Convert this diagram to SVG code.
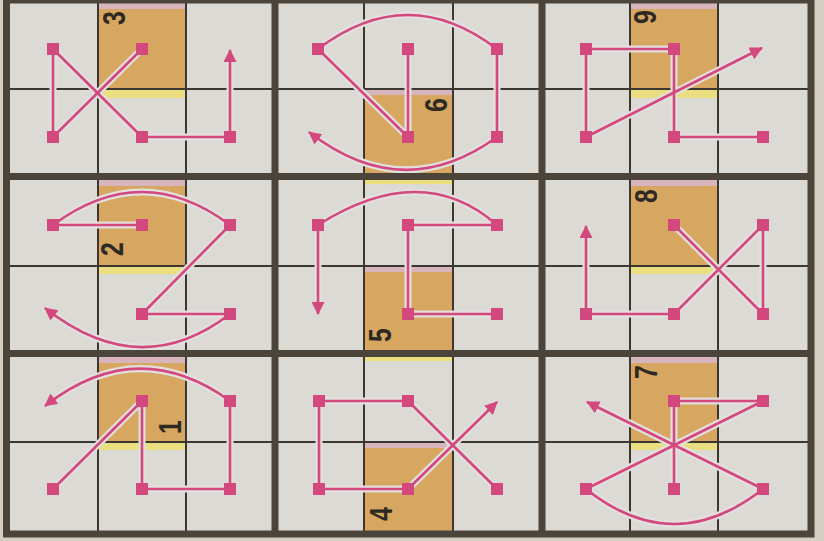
<svg xmlns="http://www.w3.org/2000/svg" width="824" height="541" viewBox="0 0 824 541">
<defs>
<style>
.paper{fill:#d3cec1}
.cell{fill:#dcdad4}
.grid{stroke:#3c3731;stroke-width:2;fill:none}
.frame{stroke:#4a443a;stroke-width:7;fill:none}
.halo{stroke:#e3dfdf;stroke-width:7;fill:none;stroke-linejoin:round}
.wire{stroke:#d3487d;stroke-width:2.6;fill:none;stroke-linejoin:round}
.arrow{marker-end:url(#ah)}
.mag{fill:#d6b5bd}
.org{fill:#d7a761}
.yel{fill:#e9df80}
.num{font-family:"Liberation Sans",Arial,sans-serif;font-weight:bold;font-size:31px;fill:#2d2923;text-anchor:middle}
.node rect{fill:#d3487d}
</style>
<marker id="ah" markerUnits="userSpaceOnUse" viewBox="0 0 13 13" markerWidth="13" markerHeight="13" refX="12" refY="6.5" orient="auto"><path d="M0,0 L13,6.5 L0,13 z" fill="#d3487d"/></marker>
</defs>

<g id="board">
<rect class="paper" x="0" y="0" width="824" height="541"/>
<rect class="cell" x="6" y="0" width="806" height="535"/>
<g id="highlights">
<rect class="yel" x="98" y="89" width="88" height="9"/><rect class="mag" x="98" y="3" width="88" height="6"/><rect class="org" x="98" y="9" width="88" height="80"/>
<rect class="yel" x="364" y="173" width="89" height="11"/><rect class="mag" x="364" y="89" width="89" height="6"/><rect class="org" x="364" y="95" width="89" height="78"/>
<rect class="yel" x="630" y="89" width="88" height="9"/><rect class="mag" x="630" y="3" width="88" height="6"/><rect class="org" x="630" y="9" width="88" height="80"/>
<rect class="yel" x="98" y="266" width="88" height="8"/><rect class="mag" x="98" y="180" width="88" height="6"/><rect class="org" x="98" y="186" width="88" height="80"/>
<rect class="yel" x="364" y="350" width="89" height="11"/><rect class="mag" x="364" y="266" width="89" height="6"/><rect class="org" x="364" y="272" width="89" height="78"/>
<rect class="yel" x="630" y="266" width="88" height="8"/><rect class="mag" x="630" y="180" width="88" height="6"/><rect class="org" x="630" y="186" width="88" height="80"/>
<rect class="yel" x="98" y="442" width="88" height="8"/><rect class="mag" x="98" y="357" width="88" height="6"/><rect class="org" x="98" y="363" width="88" height="79"/>
<rect class="yel" x="364" y="531" width="89" height="6"/><rect class="mag" x="364" y="442" width="89" height="6"/><rect class="org" x="364" y="448" width="89" height="83"/>
<rect class="yel" x="630" y="442" width="88" height="8"/><rect class="mag" x="630" y="357" width="88" height="6"/><rect class="org" x="630" y="363" width="88" height="79"/>
</g>
<path class="grid" d="M98,0V537 M186,0V537 M364,0V537 M453,0V537 M630,0V537 M718,0V537 M6,89H811 M6,266H811 M6,442H811"/>
</g>

<g id="connectors">
<g id="halos" class="halo">
<path d="M142,49 L53,137 L53,49 L142,137 L230,137 L230,50"/>
<path d="M408,49 L408,137 L318,49 Q408,-19 497,49 L497,137 Q403,205 309,132"/>
<path d="M763,137 L674,137 L674,49 L586,49 L586,137 L762,48"/>
<path d="M142,225 L53,225 Q142,159 230,225 L142,314 L230,314 Q140,383 45,308"/>
<path d="M497,314 L408,314 L408,225 L497,225 Q422,159 318,225 L318,314"/>
<path d="M674,225 L763,314 L763,225 L674,314 L586,314 L586,226"/>
<path d="M53,489 L142,401 L142,489 L230,489 L230,401 Q137,334 45,406"/>
<path d="M497,489 L408,401 L319,401 L319,489 L408,489 L497,402"/>
<path d="M674,489 L674,401 L763,401 L586,489 Q674,559 763,489 L587,402"/>
</g>
<g id="wires" class="wire">
<path d="M142,49 L53,137"/><path d="M53,137 L53,49"/><path d="M53,49 L142,137"/><path d="M142,137 L230,137"/><path class="arrow" d="M230,137 L230,50"/>
<path d="M408,49 L408,137"/><path d="M408,137 L318,49"/><path d="M318,49 Q408,-19 497,49"/><path d="M497,49 L497,137"/><path class="arrow" d="M497,137 Q403,205 309,132"/>
<path d="M763,137 L674,137"/><path d="M674,137 L674,49"/><path d="M674,49 L586,49"/><path d="M586,49 L586,137"/><path class="arrow" d="M586,137 L762,48"/>
<path d="M142,225 L53,225"/><path d="M53,225 Q142,159 230,225"/><path d="M230,225 L142,314"/><path d="M142,314 L230,314"/><path class="arrow" d="M230,314 Q140,383 45,308"/>
<path d="M497,314 L408,314"/><path d="M408,314 L408,225"/><path d="M408,225 L497,225"/><path d="M497,225 Q422,159 318,225"/><path class="arrow" d="M318,225 L318,314"/>
<path d="M674,225 L763,314"/><path d="M763,314 L763,225"/><path d="M763,225 L674,314"/><path d="M674,314 L586,314"/><path class="arrow" d="M586,314 L586,226"/>
<path d="M53,489 L142,401"/><path d="M142,401 L142,489"/><path d="M142,489 L230,489"/><path d="M230,489 L230,401"/><path class="arrow" d="M230,401 Q137,334 45,406"/>
<path d="M497,489 L408,401"/><path d="M408,401 L319,401"/><path d="M319,401 L319,489"/><path d="M319,489 L408,489"/><path class="arrow" d="M408,489 L497,402"/>
<path d="M674,489 L674,401"/><path d="M674,401 L763,401"/><path d="M763,401 L586,489"/><path d="M586,489 Q674,559 763,489"/><path class="arrow" d="M763,489 L587,402"/>
</g>
</g>

<g id="nodes">
<g id="p3-a" class="node"><rect x="47" y="43" width="12" height="12"/></g>
<g id="p3-b" class="node"><rect x="136" y="43" width="12" height="12"/></g>
<g id="p3-c" class="node"><rect x="47" y="131" width="12" height="12"/></g>
<g id="p3-d" class="node"><rect x="136" y="131" width="12" height="12"/></g>
<g id="p3-e" class="node"><rect x="224" y="131" width="12" height="12"/></g>

<g id="p6-a" class="node"><rect x="312" y="43" width="12" height="12"/></g>
<g id="p6-b" class="node"><rect x="402" y="43" width="12" height="12"/></g>
<g id="p6-c" class="node"><rect x="491" y="43" width="12" height="12"/></g>
<g id="p6-d" class="node"><rect x="402" y="131" width="12" height="12"/></g>
<g id="p6-e" class="node"><rect x="491" y="131" width="12" height="12"/></g>

<g id="p9-a" class="node"><rect x="580" y="43" width="12" height="12"/></g>
<g id="p9-b" class="node"><rect x="668" y="43" width="12" height="12"/></g>
<g id="p9-c" class="node"><rect x="580" y="131" width="12" height="12"/></g>
<g id="p9-d" class="node"><rect x="668" y="131" width="12" height="12"/></g>
<g id="p9-e" class="node"><rect x="757" y="131" width="12" height="12"/></g>

<g id="p2-a" class="node"><rect x="47" y="219" width="12" height="12"/></g>
<g id="p2-b" class="node"><rect x="136" y="219" width="12" height="12"/></g>
<g id="p2-c" class="node"><rect x="224" y="219" width="12" height="12"/></g>
<g id="p2-d" class="node"><rect x="136" y="308" width="12" height="12"/></g>
<g id="p2-e" class="node"><rect x="224" y="308" width="12" height="12"/></g>

<g id="p5-a" class="node"><rect x="312" y="219" width="12" height="12"/></g>
<g id="p5-b" class="node"><rect x="402" y="219" width="12" height="12"/></g>
<g id="p5-c" class="node"><rect x="491" y="219" width="12" height="12"/></g>
<g id="p5-d" class="node"><rect x="402" y="308" width="12" height="12"/></g>
<g id="p5-e" class="node"><rect x="491" y="308" width="12" height="12"/></g>

<g id="p8-a" class="node"><rect x="668" y="219" width="12" height="12"/></g>
<g id="p8-b" class="node"><rect x="757" y="219" width="12" height="12"/></g>
<g id="p8-c" class="node"><rect x="580" y="308" width="12" height="12"/></g>
<g id="p8-d" class="node"><rect x="668" y="308" width="12" height="12"/></g>
<g id="p8-e" class="node"><rect x="757" y="308" width="12" height="12"/></g>

<g id="p1-a" class="node"><rect x="136" y="395" width="12" height="12"/></g>
<g id="p1-b" class="node"><rect x="224" y="395" width="12" height="12"/></g>
<g id="p1-c" class="node"><rect x="47" y="483" width="12" height="12"/></g>
<g id="p1-d" class="node"><rect x="136" y="483" width="12" height="12"/></g>
<g id="p1-e" class="node"><rect x="224" y="483" width="12" height="12"/></g>

<g id="p4-a" class="node"><rect x="313" y="395" width="12" height="12"/></g>
<g id="p4-b" class="node"><rect x="402" y="395" width="12" height="12"/></g>
<g id="p4-c" class="node"><rect x="313" y="483" width="12" height="12"/></g>
<g id="p4-d" class="node"><rect x="402" y="483" width="12" height="12"/></g>
<g id="p4-e" class="node"><rect x="491" y="483" width="12" height="12"/></g>

<g id="p7-a" class="node"><rect x="668" y="395" width="12" height="12"/></g>
<g id="p7-b" class="node"><rect x="757" y="395" width="12" height="12"/></g>
<g id="p7-c" class="node"><rect x="580" y="483" width="12" height="12"/></g>
<g id="p7-d" class="node"><rect x="668" y="483" width="12" height="12"/></g>
<g id="p7-e" class="node"><rect x="757" y="483" width="12" height="12"/></g>
</g>

<path id="frame" class="frame" d="M6.5,0V534 M275,0V534 M542,0V534 M811,0V534 M3,0H814.5 M3,176.5H814.5 M3,353.5H814.5 M3,534H814.5"/>

<g id="numbers" class="num">
<text transform="translate(114,18) rotate(-90) scale(0.8,1)" x="0" y="11">3</text>
<text transform="translate(436,105) rotate(-90) scale(0.8,1)" x="0" y="11">6</text>
<text transform="translate(645,17) rotate(-90) scale(0.8,1)" x="0" y="11">9</text>
<text transform="translate(112,249) rotate(-90) scale(0.8,1)" x="0" y="11">2</text>
<text transform="translate(380,335) rotate(-90) scale(0.8,1)" x="0" y="11">5</text>
<text transform="translate(646,196) rotate(-90) scale(0.8,1)" x="0" y="11">8</text>
<text transform="translate(170,427) rotate(-90) scale(0.8,1)" x="0" y="11">1</text>
<text transform="translate(381,514) rotate(-90) scale(0.8,1)" x="0" y="11">4</text>
<text transform="translate(646,372) rotate(-90) scale(0.8,1)" x="0" y="11">7</text>
</g>
</svg>
